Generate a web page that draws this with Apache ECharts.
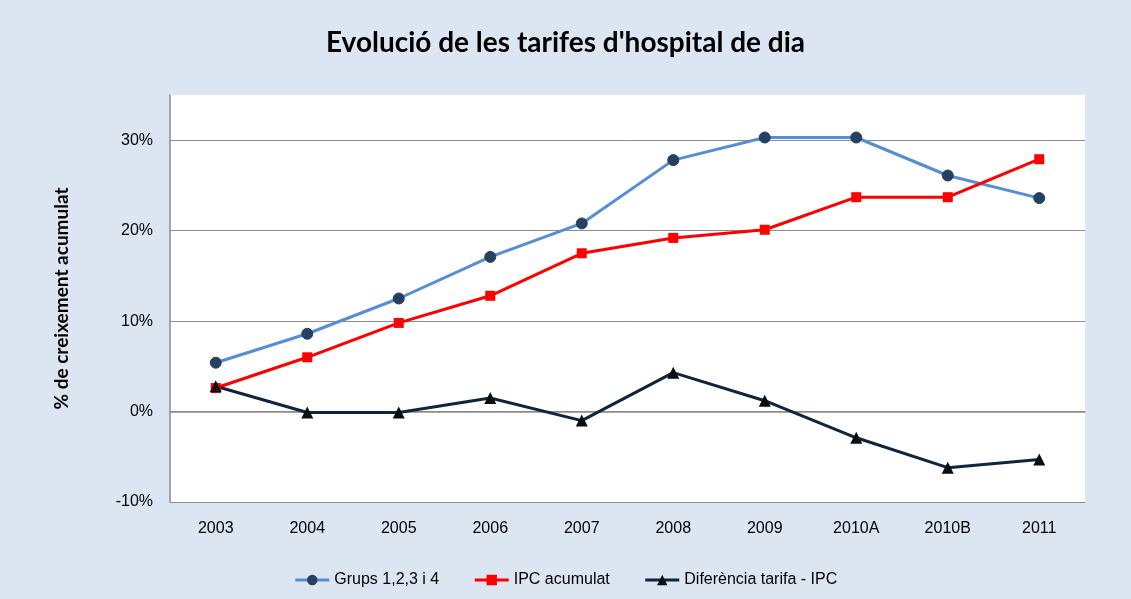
<!DOCTYPE html>
<html>
<head>
<meta charset="utf-8">
<script src="https://cdn.jsdelivr.net/npm/echarts@6/dist/echarts.min.js"></script>
<style>
html,body{margin:0;padding:0;background:#dce6f2;}
#chart{width:1131px;height:599px;}
</style>
</head>
<body>
<div id="chart"></div>
<script>
const categories = ['2003','2004','2005','2006','2007','2008','2009','2010A','2010B','2011'];
const grups = [5.4, 8.6, 12.5, 17.1, 20.8, 27.8, 30.3, 30.3, 26.1, 23.6];
const ipc = [2.6, 6.0, 9.8, 12.8, 17.5, 19.2, 20.1, 23.7, 23.7, 27.9];
const diferencia = [2.8, -0.1, -0.1, 1.5, -1.0, 4.3, 1.2, -2.9, -6.2, -5.3];
const seriesNames = ['Grups 1,2,3 i 4', 'IPC acumulat', 'Diferència tarifa - IPC'];

const chart = echarts.init(document.getElementById('chart'), null, {renderer:'canvas'});
chart.setOption({
  backgroundColor: '#dce6f2',
  animation: false,
  title: {
    text: "Evolució de les tarifes d'hospital de dia",
    left: 'center',
    top: 24,
    textStyle: {fontFamily: 'Lato', fontWeight: 'bold', fontSize: 28, color: '#000'}
  },
  legend: {
    bottom: 6,
    left: 'center',
    itemWidth: 34,
    itemHeight: 13,
    itemGap: 34,
    lineStyle: {width: 3},
    textStyle: {fontFamily: 'Liberation Sans', fontSize: 16, color: '#000'},
    data: seriesNames
  },
  grid: {
    left: 170, top: 95, width: 915, height: 407,
    show: true, backgroundColor: '#ffffff', borderWidth: 0
  },
  xAxis: {
    type: 'category',
    data: categories,
    boundaryGap: true,
    axisLine: {lineStyle: {color: '#8c8c8c', width: 1.5}},
    axisTick: {show: false},
    axisLabel: {margin: 19, fontFamily: 'Liberation Sans', fontSize: 16, color: '#000'}
  },
  yAxis: {
    type: 'value',
    min: -10, max: 35, interval: 10,
    name: '% de creixement acumulat',
    nameLocation: 'middle',
    nameGap: 99,
    nameTextStyle: {fontFamily: 'Lato', fontWeight: 'bold', fontSize: 19, color: '#000'},
    axisLine: {show: true, lineStyle: {color: '#8c8c8c', width: 1.5}},
    axisTick: {show: false},
    axisLabel: {
      margin: 17, fontFamily: 'Liberation Sans', fontSize: 16, color: '#000',
      formatter: function(v){ return v > 30 ? '' : v + '%'; }
    },
    splitLine: {show: true, lineStyle: {color: ['#8c8c8c','#8c8c8c','#8c8c8c','#8c8c8c','#8c8c8c','rgba(0,0,0,0)'], width: 1}}
  },
  series: [
    {
      name: seriesNames[0], type: 'line', data: grups,
      symbol: 'circle', symbolSize: 11,
      lineStyle: {color: '#558ed5', width: 3},
      itemStyle: {color: '#254061', borderColor: '#254061'}
    },
    {
      name: seriesNames[1], type: 'line', data: ipc,
      symbol: 'rect', symbolSize: 10,
      lineStyle: {color: '#ff0000', width: 3},
      itemStyle: {color: '#ff0000'}
    },
    {
      name: seriesNames[2], type: 'line', data: diferencia,
      symbol: 'triangle', symbolSize: 12,
      lineStyle: {color: '#0f243e', width: 3},
      itemStyle: {color: '#0d0d0d'}
    }
  ]
});
</script>
</body>
</html>
